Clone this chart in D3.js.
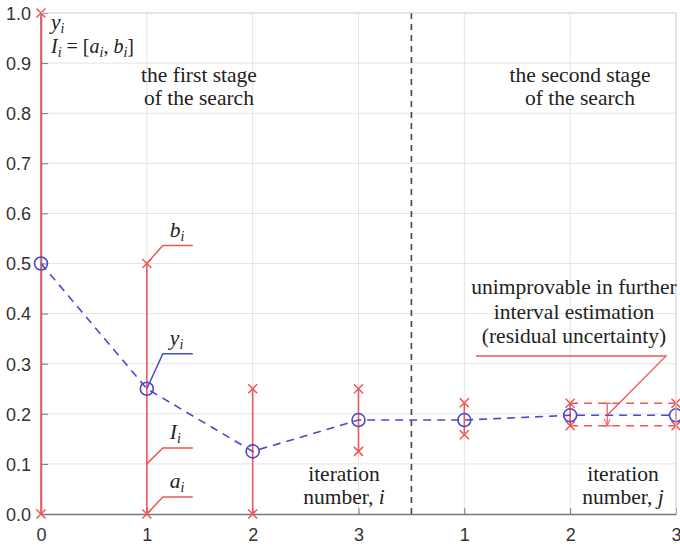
<!DOCTYPE html>
<html>
<head>
<meta charset="UTF-8">
<script src="https://cdn.jsdelivr.net/npm/d3@7"></script>
<style>
  body { margin: 0; background: #fff; }
  svg { display: block; }
</style>
</head>
<body>
<svg></svg>
<script>
// iteration positions: 0..3 first stage (i), 4..6 second stage (j = 1..3)
const xLabels = ["0", "1", "2", "3", "1", "2", "3"];
const yTicks = [0, 0.1, 0.2, 0.3, 0.4, 0.5, 0.6, 0.7, 0.8, 0.9, 1.0];
const yMid = [0.5, 0.25, 0.125, 0.1875, 0.1875, 0.197, 0.197];
const aLow = [0, 0, 0, 0.125, 0.158, 0.176, 0.176];
const bHigh = [1, 0.5, 0.25, 0.25, 0.222, 0.221, 0.221];
const stageSplit = 3.5;
const residualX = 5.35;

let width = 680, height = 550;
let svg = d3.select("svg").attr("width", width).attr("height", height);

let x = d3.scaleLinear().domain([0, 6]).range([41, 676]);
let y = d3.scaleLinear().domain([0, 1]).range([514, 13]);

const red = "#f05656", blue = "#4a4ac8";
const serif = '"Liberation Serif", "Times New Roman", serif';

// grid
svg.append("g").selectAll("line").data(yTicks.slice(1)).enter().append("line")
  .attr("x1", x(0)).attr("x2", x(6)).attr("y1", d => y(d)).attr("y2", d => y(d))
  .attr("stroke", "#e4e4e4").attr("stroke-width", 1);
svg.append("g").selectAll("line").data(d3.range(1, 7)).enter().append("line")
  .attr("x1", d => x(d)).attr("x2", d => x(d)).attr("y1", y(0)).attr("y2", y(1))
  .attr("stroke", "#e4e4e4").attr("stroke-width", 1);

// axes
let yAxis = d3.axisLeft(y).tickValues(yTicks).tickFormat(d3.format(".1f")).tickSizeInner(-7).tickSizeOuter(0).tickPadding(10);
let gy = svg.append("g").attr("transform", "translate(" + x(0) + ",0)").call(yAxis);
let xAxis = d3.axisBottom(x).tickValues(d3.range(0, 7)).tickFormat((d, i) => xLabels[i]).tickSizeInner(-6).tickSizeOuter(0).tickPadding(14);
let gx = svg.append("g").attr("transform", "translate(0," + y(0) + ")").call(xAxis);
[gx, gy].forEach(g => {
  g.attr("font-family", '"Liberation Sans", Arial, sans-serif').attr("font-size", 18);
  g.select(".domain").attr("stroke", "#777").attr("stroke-width", 1.5);
  g.selectAll(".tick line").attr("stroke", "#777");
  g.selectAll(".tick text").attr("fill", "#333");
});
gy.selectAll(".tick text").attr("dy", "0.35em");

// stage divider
svg.append("line")
  .attr("x1", x(stageSplit)).attr("x2", x(stageSplit)).attr("y1", y(1)).attr("y2", y(0))
  .attr("stroke", "#444").attr("stroke-width", 1.6).attr("stroke-dasharray", "6,5");

// intervals
let idx = d3.range(yMid.length);
svg.append("g").selectAll("line").data(idx).enter().append("line")
  .attr("x1", d => x(d)).attr("x2", d => x(d))
  .attr("y1", d => y(aLow[d])).attr("y2", d => y(bHigh[d]))
  .attr("stroke", red).attr("stroke-width", 1.6);

// residual uncertainty band
[aLow[5], bHigh[5]].forEach(v => {
  svg.append("line").attr("x1", x(5)).attr("x2", x(6)).attr("y1", y(v)).attr("y2", y(v))
    .attr("stroke", red).attr("stroke-width", 1.6).attr("stroke-dasharray", "8,6");
});
let rx = x(residualX);
svg.append("line").attr("x1", rx).attr("x2", rx).attr("y1", y(bHigh[5])).attr("y2", y(aLow[5]))
  .attr("stroke", red).attr("stroke-width", 1.2);
[bHigh[5], aLow[5]].forEach(v => {
  svg.append("line").attr("x1", rx - 4).attr("x2", rx + 4).attr("y1", y(v)).attr("y2", y(v))
    .attr("stroke", red).attr("stroke-width", 1.2);
});
svg.append("path")
  .attr("d", `M${rx - 3},${y(aLow[5]) - 7}L${rx},${y(aLow[5])}L${rx + 3},${y(aLow[5]) - 7}`)
  .attr("fill", "none").attr("stroke", red).attr("stroke-width", 1);

// cross markers at interval ends
let ends = [];
idx.forEach(i => { ends.push([i, aLow[i]]); ends.push([i, bHigh[i]]); });
svg.append("g").selectAll("path").data(ends).enter().append("path")
  .attr("d", d => {
    let cx = x(d[0]), cy = y(d[1]), s = 4.5;
    return `M${cx - s},${cy - s}L${cx + s},${cy + s}M${cx - s},${cy + s}L${cx + s},${cy - s}`;
  })
  .attr("stroke", red).attr("stroke-width", 1.5).attr("fill", "none");

// estimate line
let line = d3.line().x((d, i) => x(i)).y(d => y(d));
svg.append("path").datum(yMid).attr("d", line)
  .attr("fill", "none").attr("stroke", blue).attr("stroke-width", 1.6).attr("stroke-dasharray", "8,6");
svg.append("g").selectAll("circle").data(yMid).enter().append("circle")
  .attr("cx", (d, i) => x(i)).attr("cy", d => y(d)).attr("r", 6.5)
  .attr("fill", "none").attr("stroke", blue).attr("stroke-width", 1.6);

// plot frame (top / right)
svg.append("path").attr("d", `M${x(0)},${y(1)}H${x(6)}V${y(0)}`)
  .attr("fill", "none").attr("stroke", "#d8d8d8").attr("stroke-width", 1);

function note() {
  return svg.append("text").attr("font-family", serif).attr("font-size", 21.5).attr("fill", "#222");
}
function sub(t, s) {
  t.append("tspan").attr("dy", 4).attr("font-size", 14).attr("font-style", "italic").text(s);
}

// callouts at iteration 1
function callout(px, py, dy, color, label, s) {
  let kx = px + 16, ky = py - dy;
  svg.append("path").attr("d", `M${px},${py}L${kx},${ky}H${kx + 30}`)
    .attr("fill", "none").attr("stroke", color).attr("stroke-width", 1.5);
  let t = note().attr("x", kx + 7).attr("y", ky - 9);
  t.append("tspan").attr("font-style", "italic").text(label);
  sub(t, s);
}
callout(x(1), y(bHigh[1]), 18, red, "b", "i");
callout(x(1), y(yMid[1]), 35, blue, "y", "i");
callout(x(1), y(0.1), 16, red, "I", "i");
callout(x(1), y(0), 17, red, "a", "i");

// legend-like labels top left
let t1 = note().attr("x", 51).attr("y", 29);
t1.append("tspan").attr("font-style", "italic").text("y");
sub(t1, "i");
let t2 = note().attr("x", 51).attr("y", 53).attr("font-size", 20);
t2.append("tspan").attr("font-style", "italic").text("I");
sub(t2, "i");
t2.append("tspan").attr("dy", -4).text(" = [");
t2.append("tspan").attr("font-style", "italic").text("a");
sub(t2, "i");
t2.append("tspan").attr("dy", -4).text(", ");
t2.append("tspan").attr("font-style", "italic").text("b");
sub(t2, "i");
t2.append("tspan").attr("dy", -4).text("]");

// block texts
function block(cx, cy, lines, lh, italicLast) {
  let t = note().attr("text-anchor", "middle");
  lines.forEach((s, k) => {
    let ts = t.append("tspan").attr("x", cx).attr("y", cy + k * lh);
    ts.text(s);
    if (italicLast && k === lines.length - 1) {
      t.append("tspan").attr("font-style", "italic").text(italicLast);
    }
  });
}
block(199, 82, ["the first stage", "of the search"], 23);
block(580, 82, ["the second stage", "of the search"], 23);
block(574, 294, ["unimprovable in further", "interval estimation", "(residual uncertainty)"], 24.5);
block(344, 481, ["iteration", "number, "], 23, "i");
block(623, 481, ["iteration", "number, "], 23, "j");

// residual callout
let ly = 356;
svg.append("path").attr("d", `M${rx},${y(yMid[5])}L${x(6) - 10},${ly}H${x(6) - 200}`)
  .attr("fill", "none").attr("stroke", red).attr("stroke-width", 1.3);
</script>
</body>
</html>
